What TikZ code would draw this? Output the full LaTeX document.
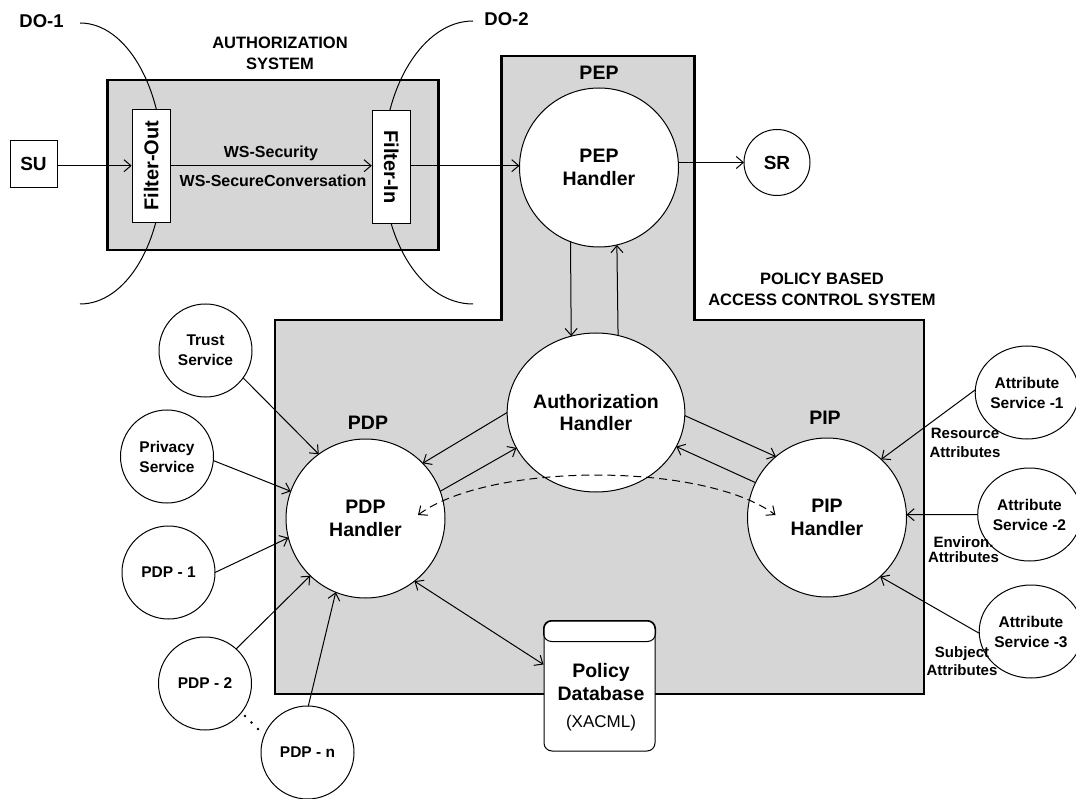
\documentclass[tikz,border=0pt]{standalone}
\usepackage{fontspec}
\setmainfont{Liberation Sans}
\usetikzlibrary{shapes.geometric,arrows.meta}
\definecolor{panel}{RGB}{214,214,214}
\tikzset{
  >={Straight Barb[length=7pt,width=12pt]},
  wire/.style={line width=1pt,->},
  wiretwo/.style={line width=1pt,<->},
  dashwire/.style={line width=1pt,<->,dash pattern=on 8pt off 5pt},
  panelbox/.style={draw,line width=2.6pt,fill=panel,line join=miter},
  bub/.style={ellipse,draw,line width=1pt,fill=white,inner sep=0pt,outer sep=0pt,align=center},
  handler/.style={bub,minimum width=159pt,minimum height=159pt,font=\fontsize{19.5}{22.5}\selectfont\bfseries},
  service/.style={bub,minimum width=93pt,minimum height=93pt,font=\fontsize{15.5}{20}\selectfont\bfseries},
  caption/.style={font=\fontsize{19.5}{22.5}\selectfont\bfseries},
  filterbox/.style={draw,line width=1pt,fill=white,minimum width=38pt,minimum height=113pt,inner sep=0pt,font=\fontsize{20}{24}\selectfont\bfseries},
  heading/.style={align=center,font=\fontsize{16.5}{21}\selectfont\bfseries},
  attrlabel/.style={align=center,font=\fontsize{15}{19}\selectfont\bfseries},
}
\begin{document}
\begin{tikzpicture}[x=1pt,y=-1pt]
\useasboundingbox (0,0) rectangle (1076,799);

% authorization system frame
\draw[panelbox] (107.7,80) rectangle (438.3,250);

% domain boundaries DO-1 and DO-2
\draw[line width=1pt] (80,23) .. controls (126,23) and (163,87) .. (163,165)
                              .. controls (163,243) and (126,304) .. (80,304);
\draw[line width=1pt] (473,21) .. controls (423,21) and (383,87) .. (383,165)
                               .. controls (383,243) and (423,304) .. (473,304);

% policy based access control system frame (T shape)
\draw[panelbox] (501.7,56) -- (694.7,56) -- (694.7,320) -- (924,320) -- (924,694)
  -- (275,694) -- (275,320) -- (501.7,320) -- cycle;

% boxes and handlers
\node[draw,line width=1pt,fill=white,minimum size=47pt,inner sep=0pt,
      font=\fontsize{19}{22}\selectfont\bfseries] (su) at (33.5,163.7) {SU};
\node[filterbox] (fout) at (151.2,165.7) {\rotatebox{90}{Filter-Out}};
\node[filterbox] (fin) at (391.3,167) {\rotatebox{-90}{Filter-In}};

\node[handler] (pep) at (599,167.5) {PEP\\Handler};
\node[bub,minimum width=66pt,minimum height=66pt,font=\fontsize{19}{22}\selectfont\bfseries] (sr) at (777,162.5) {SR};
\node[handler] (auth) at (596,412.5) {Authorization\\Handler};
\node[handler] (pdp) at (365.5,518.5) {PDP\\Handler};
\node[handler] (pip) at (827,517.5) {PIP\\Handler};

\node[service] (trust) at (205.5,350.5) {Trust\\Service};
\node[service] (privacy) at (167,456.5) {Privacy\\Service};
\node[service] (pdpone) at (168.5,572.5) {PDP - 1};
\node[service] (pdptwo) at (205,683.5) {PDP - 2};
\node[service] (pdpn) at (307.5,752.5) {PDP - n};

\node[service] (attrone) at (1027,392.5) {Attribute\\Service -1};
\node[service] (attrtwo) at (1029.5,514.5) {Attribute\\Service -2};
\node[service] (attrthree) at (1031,631.5) {Attribute\\Service -3};

% policy database
\node[draw,line width=1pt,fill=white,rounded corners=8pt,minimum width=111pt,
      minimum height=130pt,inner sep=0pt] (db) at (599.5,686) {};
\draw[line width=1pt,rounded corners=8pt] (db.north west) rectangle ([yshift=-21pt]db.north east);
\node[align=center,font=\fontsize{19.5}{23}\selectfont\bfseries] (dbtext) at (601,697)
  {Policy\\Database\\[4pt]{\mdseries\fontsize{17}{20}\selectfont (XACML)}};

% dots between PDP - 2 and PDP - n
\fill (245,716) circle (1.3pt);
\fill (251.5,722.5) circle (1.3pt);
\fill (258,729) circle (1.3pt);

% labels
\node[font=\fontsize{18.5}{22}\selectfont\bfseries] (doone) at (41.5,21) {DO-1};
\node[font=\fontsize{18.5}{22}\selectfont\bfseries] (dotwo) at (506.5,19) {DO-2};
\node[heading] (authsys) at (280,53.5) {AUTHORIZATION\\SYSTEM};
\node[heading] (pbac) at (822,289.5) {POLICY BASED\\ACCESS CONTROL SYSTEM};
\node[caption] (peplabel) at (599,73) {PEP};
\node[caption] (pdplabel) at (368,423) {PDP};
\node[caption] (piplabel) at (825,418) {PIP};
\node[font=\fontsize{16}{19}\selectfont\bfseries] (wss) at (271,153) {WS-Security};
\node[font=\fontsize{16}{19}\selectfont\bfseries] (wssc) at (273,181) {WS-SecureConversation};
\node[attrlabel] (reslabel) at (965,442.5) {Resource\\Attributes};
\node[attrlabel,font=\fontsize{15}{15}\selectfont\bfseries] (envlabel) at (963.5,549.5) {Environ.\\Attributes};
\node[attrlabel,font=\fontsize{15}{18}\selectfont\bfseries] (sublabel) at (962,661) {Subject\\Attributes};

% message flow
\draw[wire] (su.east |- fout.west) -- (fout.west);
\draw[wire] (fout.east) -- (fin.west |- fout.east);
\draw[wire] (fin.east |- fout.east) -- (pep.west |- fout.east);
\draw[wire] (pep.east |- sr.west) -- (sr.west);

\draw[wire] (pep.249.4) -- (auth.108.2);
\draw[wire] (auth.74) -- (pep.283.8);
\draw[wire] (auth.180) -- (pdp.44);
\draw[wire] (pdp.20.5) -- (auth.204);
\draw[wire] (auth.-2.5) -- (pip.130.4);
\draw[wire] (pip.154.9) -- (auth.-23.6);

\draw[wire] (trust.-36.5) -- (pdp.126);
\draw[wire] (privacy.-5.5) -- (pdp.160.4);
\draw[wire] (pdpone.0.6) -- (pdp.194.2);
\draw[wire] (pdptwo.48) -- (pdp.226);
\draw[wire] (pdpn.89.4) -- (pdp.248.2);
\draw[wiretwo] (pdp.-52.5) -- (db.159);

\draw[wire] (attrone.177) -- (pip.47.3);
\draw[wire] (attrtwo.180) -- (pip.2);
\draw[wire] (attrthree.182) -- (pip.-48.3);

% PDP <-> PIP exchange
\coordinate (pdptip) at ([shift={(52.5,-3.5)}]pdp.center);
\coordinate (piptip) at ([shift={(-51.5,-2.5)}]pip.center);
\draw[dashwire] (pdptip) .. controls +(72,-53) and +(-72,-53) .. (piptip);
\end{tikzpicture}
\end{document}
